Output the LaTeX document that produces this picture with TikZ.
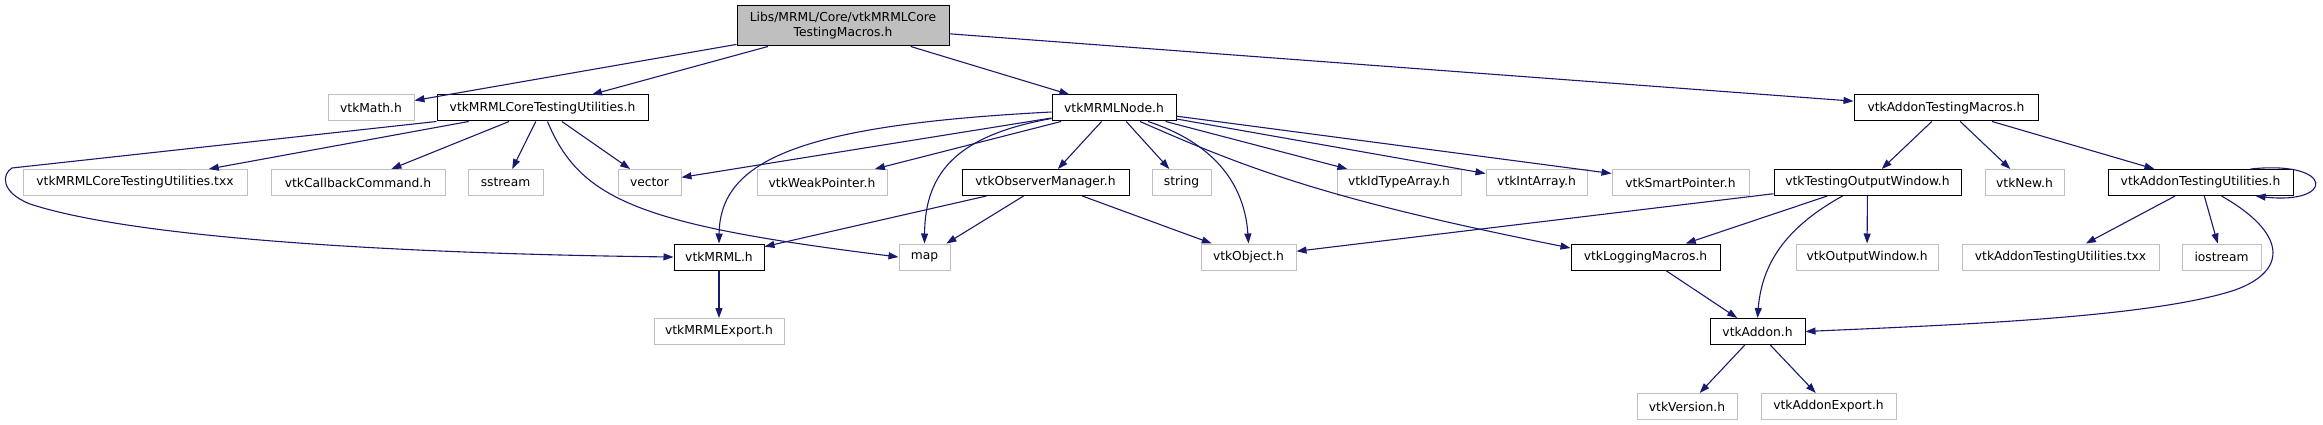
\documentclass[tikz,border=0pt]{standalone}
\usepackage{fontspec}
\setmainfont{DejaVu Sans}
\usetikzlibrary{arrows.meta}
\definecolor{linkblue}{HTML}{191970}
\definecolor{extgrey}{HTML}{BFBFBF}
\tikzset{
  file/.style={draw=black, line width=1pt, minimum height=26pt, inner sep=0pt, font=\fontsize{12.3}{15}\selectfont},
  sysfile/.style={file, draw=extgrey},
  rootfile/.style={file, fill=extgrey, minimum height=40pt, align=center},
  inc/.style={draw=linkblue, line width=1.1pt, -{Triangle[length=10pt,width=7pt]}},
}

\begin{document}
\begin{tikzpicture}[x=1pt,y=-1pt]
      \useasboundingbox (0,0) rectangle (2323,425);
      \node[rootfile, minimum width=212] (top) at (843,26) {Libs/MRML/Core/vtkMRMLCore\\TestingMacros.h};
      \node[sysfile, minimum width=86] (math) at (371,108) {vtkMath.h};
      \node[file, minimum width=211] (coreutil) at (542.5,108) {vtkMRMLCoreTestingUtilities.h};
      \node[file, minimum width=124] (mnode) at (1114,108) {vtkMRMLNode.h};
      \node[file, minimum width=184] (addonmacros) at (1946,108) {vtkAddonTestingMacros.h};
      \node[sysfile, minimum width=224] (coretxx) at (135,182.5) {vtkMRMLCoreTestingUtilities.txx};
      \node[sysfile, minimum width=174] (callback) at (358,182.5) {vtkCallbackCommand.h};
      \node[sysfile, minimum width=75] (sstream) at (505.5,182.5) {sstream};
      \node[sysfile, minimum width=63] (vector) at (649.5,182.5) {vector};
      \node[sysfile, minimum width=130] (weak) at (822,182.5) {vtkWeakPointer.h};
      \node[file, minimum width=167] (observer) at (1045.5,182.5) {vtkObserverManager.h};
      \node[sysfile, minimum width=59] (string) at (1181.5,182.5) {string};
      \node[sysfile, minimum width=124] (idtype) at (1399,182.5) {vtkIdTypeArray.h};
      \node[sysfile, minimum width=101] (intarray) at (1536.5,182.5) {vtkIntArray.h};
      \node[sysfile, minimum width=137] (smart) at (1680.5,182.5) {vtkSmartPointer.h};
      \node[file, minimum width=187] (testingout) at (1867.5,182.5) {vtkTestingOutputWindow.h};
      \node[sysfile, minimum width=79] (new) at (2024.5,182.5) {vtkNew.h};
      \node[file, minimum width=185] (addonutil) at (2200.5,182.5) {vtkAddonTestingUtilities.h};
      \node[file, minimum width=90] (mrml) at (719,257) {vtkMRML.h};
      \node[sysfile, minimum width=51] (map) at (924.5,257) {map};
      \node[sysfile, minimum width=95] (object) at (1248.5,257) {vtkObject.h};
      \node[file, minimum width=149] (logging) at (1645.5,257) {vtkLoggingMacros.h};
      \node[sysfile, minimum width=142] (outwin) at (1867,257) {vtkOutputWindow.h};
      \node[sysfile, minimum width=197] (addontxx) at (2060.5,257) {vtkAddonTestingUtilities.txx};
      \node[sysfile, minimum width=79] (iostream) at (2221.5,257) {iostream};
      \node[sysfile, minimum width=130] (mrmlexport) at (719,331.5) {vtkMRMLExport.h};
      \node[file, minimum width=95] (addon) at (1757.5,331.5) {vtkAddon.h};
      \node[sysfile, minimum width=100] (version) at (1687,406.5) {vtkVersion.h};
      \node[sysfile, minimum width=135] (addonexport) at (1828.5,406.5) {vtkAddonExport.h};

      \draw[inc] (top) -- (math);
      \draw[inc] (top) -- (coreutil);
      \draw[inc] (top) -- (mnode);
      \draw[inc] (top) -- (addonmacros);

      \draw[inc] (coreutil.south west) -- (12,168) .. controls (2,174) and (0,192) .. (30,204) .. controls (140,240) and (420,254) .. (mrml.west);
      \draw[inc] (coreutil) -- (coretxx);
      \draw[inc] (coreutil) -- (callback);
      \draw[inc] (coreutil) -- (sstream);
      \draw[inc] (coreutil) -- (vector);
      \draw[inc] ([xshift=5pt]coreutil.south) .. controls (580,200) and (640,225) .. (map.west);

      \draw[inc] (mnode) -- (vector);
      \draw[inc] (mnode) -- (weak);
      \draw[inc] ([yshift=-4pt]mnode.west) .. controls (800,125) and (720,160) .. (mrml.north);
      \draw[inc] ([yshift=3pt]mnode.south west) .. controls (960,135) and (925,170) .. (map.north);
      \draw[inc] (mnode) -- (observer);
      \draw[inc] (mnode) -- (string);
      \draw[inc] ([xshift=34pt]mnode.south) .. controls (1220,145) and (1245,190) .. (object.north);
      \draw[inc] (mnode) -- (idtype);
      \draw[inc] (mnode) -- (intarray);
      \draw[inc] (mnode) -- (smart);
      \draw[inc] ([xshift=26pt]mnode.south) .. controls (1250,170) and (1330,200) .. ([yshift=9pt]logging.west);

      \draw[inc] (observer) -- (mrml);
      \draw[inc] (observer) -- (map);
      \draw[inc] (observer) -- (object);
      \draw[inc] (mrml) -- (mrmlexport);

      \draw[inc] (addonmacros) -- (testingout);
      \draw[inc] (addonmacros) -- (new);
      \draw[inc] (addonmacros) -- (addonutil);

      \draw[inc] (testingout) -- (object);
      \draw[inc] (testingout) -- (logging);
      \draw[inc] ([xshift=-25pt]testingout.south) .. controls (1790,225) and (1762,260) .. (addon.north);
      \draw[inc] (testingout) -- (outwin);

      \draw[inc] ([xshift=50pt]addonutil.north) .. controls (2335,160) and (2335,205) .. ([xshift=55pt]addonutil.south);
      \draw[inc] (addonutil) -- (addontxx);
      \draw[inc] (addonutil) -- (iostream);
      \draw[inc] ([xshift=21pt]addonutil.south) .. controls (2285,232) and (2290,270) .. (2235,290) .. controls (2150,318) and (1950,325) .. (addon.east);

      \draw[inc] (logging) -- (addon);
      \draw[inc] (addon) -- (version);
      \draw[inc] (addon) -- (addonexport);
    \end{tikzpicture}
\end{document}
